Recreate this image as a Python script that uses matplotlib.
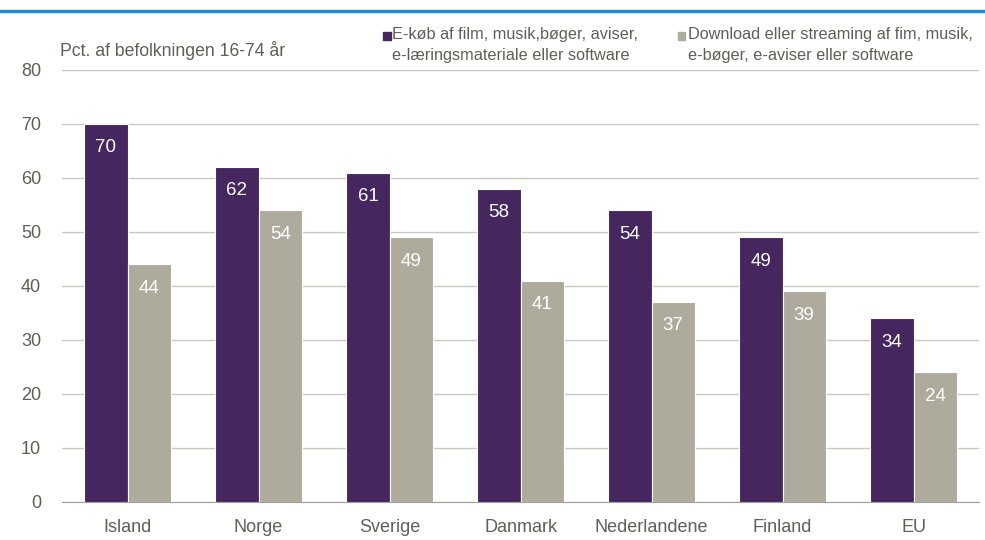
import matplotlib
matplotlib.use("Agg")
from matplotlib import pyplot as plt
import numpy as np

plt.rcParams['font.family'] = ['Liberation Sans', 'DejaVu Sans']

countries = ["Island", "Norge", "Sverige", "Danmark", "Nederlandene", "Finland", "EU"]
ekob = [70, 62, 61, 58, 54, 49, 34]
download = [44, 54, 49, 41, 37, 39, 24]
legend_labels = ["E-køb af film, musik,bøger, aviser,\ne-læringsmateriale eller software",
                 "Download eller streaming af fim, musik,\ne-bøger, e-aviser eller software"]

purple = "#45265f"
grey = "#aeab9d"
txt = "#5f5f55"

fig = plt.figure(figsize=(9.85, 5.4), dpi=100)
ax = fig.add_axes([0.063, 0.0704, 0.931, 0.8])

x = np.arange(len(countries))
w = 0.33
b1 = ax.bar(x - w / 2, ekob, w, color=purple, edgecolor="white", linewidth=0.8, zorder=3)
b2 = ax.bar(x + w / 2, download, w, color=grey, edgecolor="white", linewidth=0.8, zorder=3)

for bars, vals in ((b1, ekob), (b2, download)):
    for r, v in zip(bars, vals):
        ax.text(r.get_x() + r.get_width() / 2, v - 4.4, str(v), ha="center", va="center",
                color="white", fontsize=13.5, zorder=4)

ax.set_ylim(0, 80)
ax.set_xlim(-0.5, len(countries) - 0.5)
ax.set_yticks(range(0, 81, 10))
ax.set_xticks(x)
ax.set_xticklabels(countries)
ax.yaxis.grid(True, color="#c8c8be", linewidth=1.0, zorder=0)
for s in ("top", "right", "left"):
    ax.spines[s].set_visible(False)
ax.spines["bottom"].set_color("#a0a095")
ax.tick_params(axis="both", length=0, labelsize=13, labelcolor=txt)
ax.tick_params(axis="y", pad=15)
ax.tick_params(axis="x", pad=12)

fig.text(0.061, 0.907, "Pct. af befolkningen 16-74 år", fontsize=12.7, color=txt, va="center")

# legend
fig.patches.append(plt.Rectangle((0.389, 0.926), 0.0075, 0.014, transform=fig.transFigure,
                                 color=purple, figure=fig))
fig.text(0.398, 0.917, legend_labels[0], fontsize=11.7, color=txt, va="center", linespacing=1.45)
fig.patches.append(plt.Rectangle((0.688, 0.926), 0.0075, 0.014, transform=fig.transFigure,
                                 color=grey, figure=fig))
fig.text(0.698, 0.917, legend_labels[1], fontsize=11.7, color=txt, va="center", linespacing=1.45)

# top rule
fig.add_artist(plt.Line2D([0, 1], [0.98, 0.98], transform=fig.transFigure,
                          color="#1b8fd2", linewidth=2.5))

fig.savefig("out.png", dpi=100)
